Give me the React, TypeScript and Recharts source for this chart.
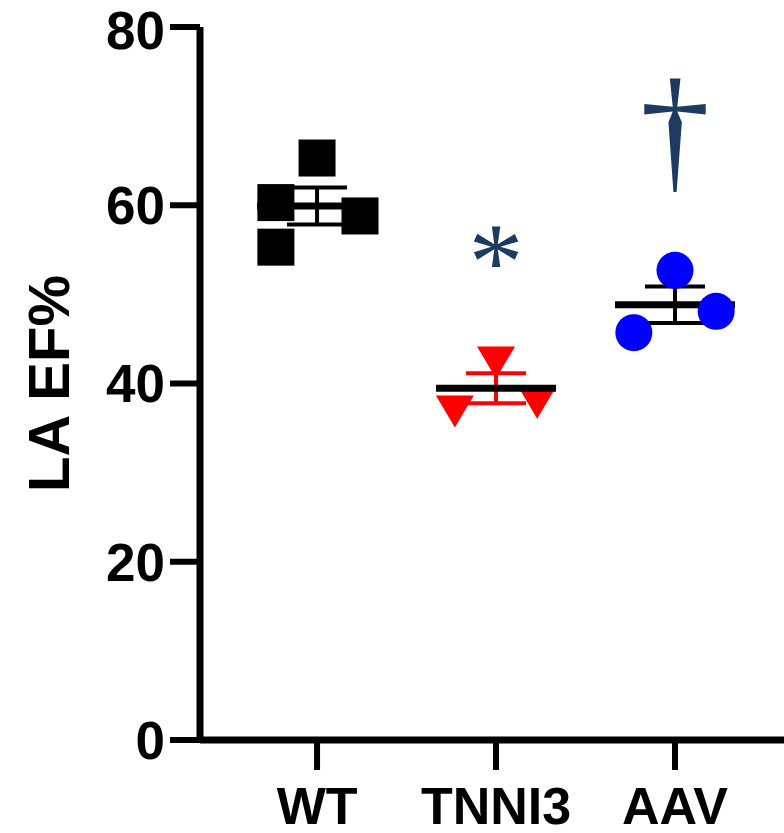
import React from "react";
import {
  ScatterChart,
  Scatter,
  XAxis,
  YAxis,
  ErrorBar,
  Label,
} from "recharts";

// groups along the x axis
const categories = ["WT", "TNNI3", "AAV"];
const yTicks = [0, 20, 40, 60, 80];

// individual animals (LA EF%), with a small horizontal spread per point
const wtValues = [60.3, 65.3, 58.8, 55.3];
const wtJitter = [-0.23, 0, 0.24, -0.23];
const tnni3Values = [42.8, 37.3, 38.3];
const tnni3Jitter = [0, -0.23, 0.23];
const aavValues = [52.7, 45.7, 48.1];
const aavJitter = [0, -0.23, 0.23];

// significance marks above the groups
const markSymbols = ["*", "\u2020"];
const markGroups = [2, 3];
const markValues = [55.5, 67.5];

const FONT = '"Liberation Sans", Arial, sans-serif';
const NAVY = "#1d3b61";

const toPoints = (values: number[], jitter: number[], group: number) =>
  values.map((v, i) => ({ x: group + jitter[i], y: v }));

const summary = (values: number[], group: number) => {
  const n = values.length;
  const mean = values.reduce((a, b) => a + b, 0) / n;
  const sd = Math.sqrt(
    values.reduce((a, b) => a + (b - mean) * (b - mean), 0) / (n - 1)
  );
  return [{ x: group, y: mean, err: sd / Math.sqrt(n) }];
};

const wtData = toPoints(wtValues, wtJitter, 1);
const tnni3Data = toPoints(tnni3Values, tnni3Jitter, 2);
const aavData = toPoints(aavValues, aavJitter, 3);
const marks = markSymbols.map((s, i) => ({
  x: markGroups[i],
  y: markValues[i],
  label: s,
}));

const Square = ({ cx, cy }: any) => (
  <rect x={cx - 18.5} y={cy - 18.5} width={37} height={37} fill="#000" />
);

const TriangleDown = ({ cx, cy }: any) => (
  <path
    d={`M${cx - 19},${cy - 12} L${cx + 19},${cy - 12} L${cx},${cy + 20} Z`}
    fill="#ff0000"
  />
);

const Dot = ({ cx, cy }: any) => <circle cx={cx} cy={cy} r={18.5} fill="#0000ff" />;

const MeanLine = ({ cx, cy }: any) => (
  <line x1={cx - 60} x2={cx + 60} y1={cy} y2={cy} stroke="#000" strokeWidth={7} />
);

const MarkText = ({ cx, cy, payload }: any) => {
  const isStar = payload.label === "*";
  return (
    <text
      x={cx}
      y={cy}
      dy={isStar ? 54 : 38}
      textAnchor="middle"
      fill={NAVY}
      fontFamily='"Liberation Serif", "Times New Roman", serif'
      fontSize={isStar ? 110 : 140}
    >
      {payload.label}
    </text>
  );
};

const YLabel = ({ viewBox }: any) => {
  const x = 69;
  const y = viewBox.y + viewBox.height / 2;
  return (
    <text
      x={x}
      y={y}
      transform={`rotate(-90, ${x}, ${y})`}
      textAnchor="middle"
      fontFamily={FONT}
      fontWeight="bold"
      fontSize={58}
      fill="#000"
    >
      LA EF%
    </text>
  );
};

export default function App() {
  return (
    <div style={{ position: "absolute", left: 0, top: 0, background: "#fff" }}>
      <ScatterChart
        width={784}
        height={833}
        margin={{ top: 27, right: 0, bottom: 0, left: 0 }}
      >
        <XAxis
          type="number"
          dataKey="x"
          domain={[0.346, 3.609]}
          ticks={[1, 2, 3]}
          tickFormatter={(v: number) => categories[v - 1]}
          allowDataOverflow
          height={93}
          tickSize={30}
          tickMargin={17}
          axisLine={{ stroke: "#000", strokeWidth: 7 }}
          tickLine={{ stroke: "#000", strokeWidth: 6 }}
          tick={{ fill: "#000", fontSize: 52, fontWeight: "bold", fontFamily: FONT }}
        />
        <YAxis
          type="number"
          dataKey="y"
          domain={[0, 80]}
          ticks={yTicks}
          width={200}
          tickSize={30}
          tickMargin={5}
          axisLine={{ stroke: "#000", strokeWidth: 7 }}
          tickLine={{ stroke: "#000", strokeWidth: 6 }}
          tick={{ fill: "#000", fontSize: 53, fontWeight: "bold", fontFamily: FONT }}
        >
          <Label content={<YLabel />} />
        </YAxis>

        <Scatter data={summary(wtValues, 1)} shape={<MeanLine />} isAnimationActive={false}>
          <ErrorBar dataKey="err" direction="y" width={30} stroke="#000" strokeWidth={4} />
        </Scatter>
        <Scatter data={wtData} shape={<Square />} isAnimationActive={false} />

        <Scatter data={tnni3Data} shape={<TriangleDown />} isAnimationActive={false} />
        <Scatter data={summary(tnni3Values, 2)} shape={<MeanLine />} isAnimationActive={false}>
          <ErrorBar dataKey="err" direction="y" width={30} stroke="#ff0000" strokeWidth={4} />
        </Scatter>

        <Scatter data={summary(aavValues, 3)} shape={<MeanLine />} isAnimationActive={false}>
          <ErrorBar dataKey="err" direction="y" width={30} stroke="#000" strokeWidth={4} />
        </Scatter>
        <Scatter data={aavData} shape={<Dot />} isAnimationActive={false} />

        <Scatter data={marks} shape={<MarkText />} isAnimationActive={false} />
      </ScatterChart>
    </div>
  );
}
